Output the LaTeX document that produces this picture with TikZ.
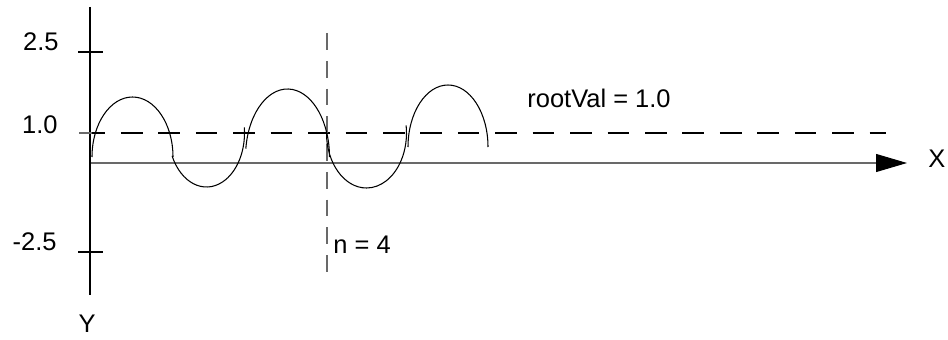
\documentclass[tikz,border=0pt]{standalone}
\usepackage{fontspec}
\setmainfont{Liberation Sans}
\usetikzlibrary{arrows.meta}
\definecolor{axisgray}{RGB}{105,105,105}
\tikzset{
  axisline/.style={line width=0.6pt, black},
  xaxis/.style={line width=0.6pt, axisgray,
                -{Triangle[length=6.2mm, width=3.6mm, color=black]}},
  tickmk/.style={line width=0.6pt, black},
  guide/.style={line width=0.6pt, dash pattern=on 12.3pt off 9pt, dash phase=4.8pt},
  cutline/.style={line width=0.6pt, axisgray, dash pattern=on 9.6pt off 6.2pt},
  wave/.style={line width=0.6pt, black},
  lbl/.style={font=\fontsize{14.5}{17}\selectfont, inner sep=0pt}
}

\begin{document}
\begin{tikzpicture}
\useasboundingbox (-1.8,-3.52) rectangle (17.16,3.26);
% axes
\draw[axisline] (0,3.12) -- (0,-2.64);
\draw[xaxis] (0.02,0) -- (16.34,0);
% ticks
\draw[tickmk] (-0.24,2.22) -- (0.26,2.22);
\draw[tickmk, axisgray] (-0.22,0.6) -- (0.3,0.6);
\draw[tickmk] (-0.24,-1.78) -- (0.26,-1.78);
% root level and cut line
\draw[guide] (0.04,0.6) -- (15.92,0.6);
\draw[cutline] (4.74,2.6) -- (4.74,-2.18);
% wave pieces: centre x/y, radii, start/end angle
\foreach \cx/\cy/\rx/\ry/\sa/\ea in {0.85/0.12/0.81/1.2/180/0,
    2.33/0.6/0.76/1.08/205/366, 3.95/0.12/0.84/1.36/173/0,
    5.53/0.6/0.80/1.10/180/368, 7.16/0.32/0.80/1.24/180/0}
  \draw[wave] ([shift={(\sa:\rx cm and \ry cm)}]\cx,\cy)
    arc[start angle=\sa, end angle=\ea, x radius=\rx, y radius=\ry];
% labels
\node[lbl, anchor=base east] (y25) at (-0.62,2.24) {2.5};
\node[lbl, anchor=base east] (y10) at (-0.64,0.6) {1.0};
\node[lbl, anchor=base east] (ym25) at (-0.66,-1.74) {-2.5};
\node[lbl, anchor=base] (ylab) at (-0.06,-3.38) {Y};
\node[lbl, anchor=base west] (xlab) at (16.76,-0.08) {X};
\node[lbl, anchor=base west] (rootval) at (8.74,1.12) {rootVal = 1.0};
\node[lbl, anchor=base west] (nlab) at (4.86,-1.8) {n = 4};
\end{tikzpicture}
\end{document}
